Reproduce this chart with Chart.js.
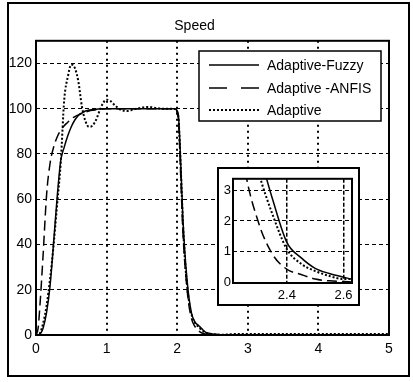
<!DOCTYPE html>
<html>
<head>
<meta charset="utf-8">
<script src="https://cdn.jsdelivr.net/npm/chart.js@4.4.1/dist/chart.umd.min.js"></script>
<style>
  body { margin: 0; background: #fff; }
  #wrap { position: relative; width: 413px; height: 382px; }
  #frame { position: absolute; left: 7px; top: 2px; width: 399px; height: 371px; border: 2px solid #000; pointer-events: none; }
  #insetBox { position: absolute; left: 217px; top: 167px; width: 139px; height: 135px; border: 2px solid #000; background: #fff; }
  canvas { display: block; }
</style>
</head>
<body>
<div id="wrap">
  <canvas id="speed" width="413" height="382"></canvas>
  <div id="insetBox"><canvas id="zoomed" width="139" height="135"></canvas></div>
  <div id="frame"></div>
</div>
<script>
// time (s)
const time = [0, 0.03, 0.06, 0.1, 0.15, 0.2, 0.25, 0.3, 0.35, 0.4, 0.45, 0.5, 0.55, 0.6, 0.65, 0.7, 0.75, 0.8, 0.85, 0.9, 0.95,
  1.0, 1.05, 1.1, 1.2, 1.3, 1.4, 1.5, 1.6, 1.7, 1.8, 1.9, 1.97, 2.0, 2.02, 2.05, 2.08, 2.11, 2.15, 2.2, 2.25, 2.3, 2.35,
  2.4, 2.45, 2.5, 2.55, 2.6, 2.65, 2.7, 2.8, 3.0, 3.5, 4.0, 4.5, 5.0];

const fuzzy = [0, 0, 0.5, 3, 10, 22, 41, 61, 77, 83, 88, 92, 95, 97, 98, 99, 99.4, 99.6, 99.8, 99.9, 100,
  100, 100, 100, 100, 100, 100, 100, 100, 100, 100, 100, 100, 99, 96, 76, 52, 36, 21, 10, 5.8, 4.3, 2.7,
  1.3, 0.8, 0.45, 0.28, 0.16, 0.06, 0.03, 0, 0, 0, 0, 0, 0];

const anfis = [0, 3, 15, 35, 62, 76, 83, 87.5, 90.5, 92.5, 94, 95.5, 96.5, 97.3, 98, 98.5, 99, 99.3, 99.5, 99.7, 99.9,
  100, 100, 100, 100, 100, 100, 100, 100, 100, 100, 100, 100, 98.5, 94, 70, 46, 31, 17, 7.5, 3.8, 1.95, 0.9,
  0.42, 0.25, 0.1, 0.04, 0.02, 0, 0, 0, 0, 0, 0, 0, 0];

const adaptive = [0, 0, 1, 5, 13, 25, 40, 58, 76, 104, 114, 119.5, 118, 112, 101, 94.5, 92, 92.5, 95, 99, 102.5,
  104, 103.5, 102, 99.5, 99, 99.8, 100.5, 100.8, 100.3, 100, 100, 99.8, 98.5, 95, 74, 50, 33, 19, 9.5, 5.5, 3.6, 2.2,
  1.08, 0.6, 0.36, 0.2, 0.1, 0.1, 0.2, 0.4, 0.4, 0.4, 0.4, 0.4, 0.4];

const seriesNames = ['Adaptive-Fuzzy', 'Adaptive -ANFIS', 'Adaptive'];
const xTicks = [0, 1, 2, 3, 4, 5];
const yTicks = [0, 20, 40, 60, 80, 100, 120];
const insetXTicks = [2.4, 2.6];
const insetYTicks = [0, 1, 2, 3];

const FONT = 'Liberation Sans, Arial, sans-serif';

function pts(ys) {
  return time.map((t, i) => ({ x: t, y: ys[i] }));
}

function makeDatasets() {
  return [
    { label: seriesNames[0], data: pts(fuzzy), borderColor: '#000', borderWidth: 1.5, borderDash: [] },
    { label: seriesNames[1], data: pts(anfis), borderColor: '#000', borderWidth: 1.5, borderDash: [10, 5] },
    { label: seriesNames[2], data: pts(adaptive), borderColor: '#000', borderWidth: 2, borderDash: [2, 2] }
  ].map(d => Object.assign(d, { pointRadius: 0, fill: false, cubicInterpolationMode: 'monotone' }));
}

// box around the plotting area
const frameBox = {
  id: 'frameBox',
  afterDatasetsDraw(chart) {
    const a = chart.chartArea, ctx = chart.ctx;
    ctx.save();
    ctx.strokeStyle = '#000';
    ctx.lineWidth = 2;
    ctx.setLineDash([]);
    ctx.strokeRect(a.left, a.top, a.right - a.left, a.bottom - a.top);
    ctx.restore();
  }
};

// legend box in upper right corner
const boxLegend = {
  id: 'boxLegend',
  afterDraw(chart) {
    const ctx = chart.ctx;
    ctx.save();
    ctx.fillStyle = '#fff';
    ctx.fillRect(199, 51, 182, 70);
    ctx.strokeStyle = '#000';
    ctx.lineWidth = 1.5;
    ctx.strokeRect(199, 51, 182, 70);
    const rows = [65, 88, 110];
    chart.data.datasets.forEach((ds, i) => {
      ctx.beginPath();
      ctx.setLineDash(i == 1 ? [18, 14] : ds.borderDash);
      ctx.lineWidth = ds.borderWidth;
      ctx.moveTo(209, rows[i]);
      ctx.lineTo(259, rows[i]);
      ctx.stroke();
      ctx.setLineDash([]);
      ctx.fillStyle = '#000';
      ctx.font = '14px ' + FONT;
      ctx.textBaseline = 'middle';
      ctx.fillText(ds.label, 267, rows[i] + 1);
    });
    ctx.restore();
  }
};

new Chart(document.getElementById('speed'), {
  type: 'line',
  data: { datasets: makeDatasets() },
  plugins: [frameBox, boxLegend],
  options: {
    responsive: false,
    animation: false,
    devicePixelRatio: 1,
    layout: { padding: { left: 0, right: 24, top: 0, bottom: 0 } },
    plugins: {
      legend: { display: false },
      tooltip: { enabled: false },
      title: { display: true, text: 'Speed', color: '#000', font: { family: FONT, size: 14, weight: 'normal' }, padding: { top: 18, bottom: 6 } }
    },
    scales: {
      x: {
        type: 'linear', min: 0, max: 5,
        afterBuildTicks: s => { s.ticks = xTicks.map(v => ({ value: v })); },
        afterFit: s => { s.height = 47; },
        grid: { color: '#000', lineWidth: 2, drawTicks: false },
        border: { display: false, dash: [2, 4] },
        ticks: { color: '#000', padding: 6, font: { family: FONT, size: 14 } }
      },
      y: {
        min: 0, max: 130,
        afterBuildTicks: s => { s.ticks = yTicks.map(v => ({ value: v })); },
        afterFit: s => { s.width = 36; },
        grid: { color: '#000', lineWidth: 1, drawTicks: false },
        border: { display: false, dash: [4, 3] },
        ticks: { color: '#000', padding: 4, font: { family: FONT, size: 14 } }
      }
    }
  }
});

new Chart(document.getElementById('zoomed'), {
  type: 'line',
  data: { datasets: makeDatasets() },
  plugins: [frameBox],
  options: {
    responsive: false,
    animation: false,
    devicePixelRatio: 1,
    layout: { padding: { left: 0, right: 6, top: 5, bottom: 0 } },
    plugins: { legend: { display: false }, tooltip: { enabled: false }, title: { display: false } },
    scales: {
      x: {
        type: 'linear', min: 2.21, max: 2.63,
        afterBuildTicks: s => { s.ticks = insetXTicks.map(v => ({ value: v })); },
        afterFit: s => { s.height = 21; },
        grid: { color: '#000', lineWidth: 1.5, drawTicks: false },
        border: { display: false, dash: [4, 2] },
        ticks: { color: '#000', padding: 5, font: { family: FONT, size: 13 }, callback: v => v.toFixed(1) }
      },
      y: {
        min: -0.03, max: 3.38,
        afterBuildTicks: s => { s.ticks = insetYTicks.map(v => ({ value: v })); },
        afterFit: s => { s.width = 14; },
        grid: { color: '#000', lineWidth: 1, drawTicks: false },
        border: { display: false, dash: [4, 3] },
        ticks: { color: '#000', padding: 2, font: { family: FONT, size: 13 } }
      }
    }
  }
});
</script>
</body>
</html>
